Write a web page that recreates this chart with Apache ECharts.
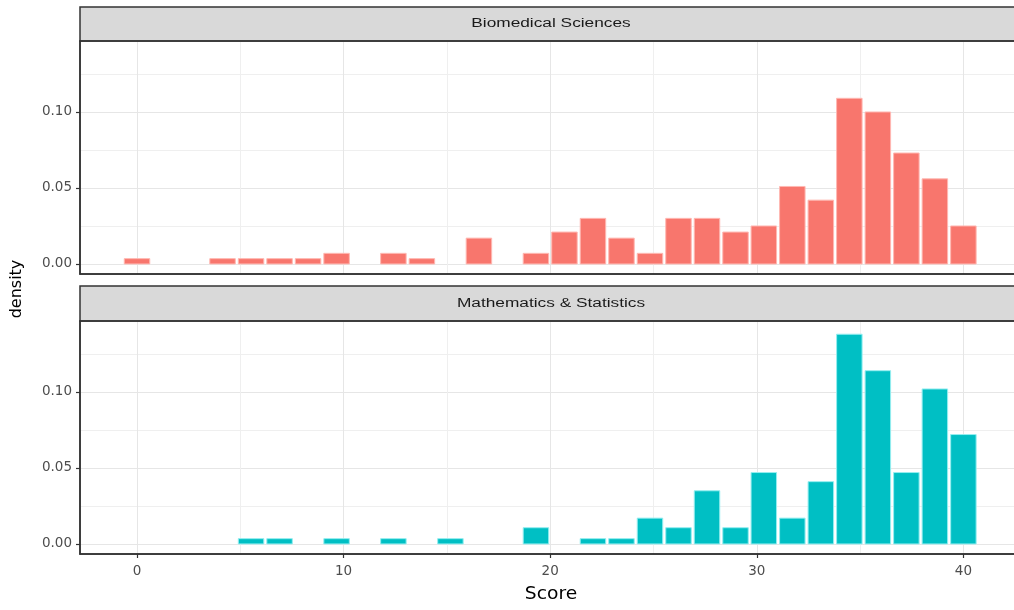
<!DOCTYPE html>
<html>
<head>
<meta charset="utf-8">
<script src="https://cdn.jsdelivr.net/npm/echarts@6/dist/echarts.min.js"></script>
<style>html,body{margin:0;padding:0;background:#fff}#c{width:1014px;height:610px}</style>
</head>
<body>
<div id="c"></div>
<script>
const panelNames = ['Biomedical Sciences', 'Mathematics & Statistics'];
const binCenters = [0, 1.38, 2.76, 4.14, 5.52, 6.90, 8.28, 9.66, 11.03, 12.41, 13.79, 15.17, 16.55, 17.93, 19.31, 20.69, 22.07, 23.45, 24.83, 26.21, 27.59, 28.97, 30.34, 31.72, 33.10, 34.48, 35.86, 37.24, 38.62, 40.00];
const binWidth = 1.379;
const bioDensity = [0.0035, 0, 0, 0.0035, 0.0035, 0.0035, 0.0035, 0.007, 0, 0.007, 0.0035, 0, 0.017, 0, 0.007, 0.021, 0.030, 0.017, 0.007, 0.030, 0.030, 0.021, 0.025, 0.051, 0.042, 0.109, 0.100, 0.073, 0.056, 0.025];
const mathDensity = [0, 0, 0, 0, 0.0035, 0.0035, 0, 0.0035, 0, 0.0035, 0, 0.0035, 0, 0, 0.0107, 0, 0.0035, 0.0035, 0.017, 0.0107, 0.035, 0.0107, 0.047, 0.017, 0.041, 0.138, 0.114, 0.047, 0.102, 0.072];
const yTickLabels = ['0.00', '0.05', '0.10'];
const xTickLabels = ['0', '10', '20', '30', '40'];

const FONT = 'Liberation Sans, Arial, sans-serif';
const AXFONT = 'DejaVu Sans, sans-serif';
const colors = ['#F8766D', '#00BFC4'];
const strokes = ['#ffb8b2', '#95eef0'];

const chart = echarts.init(document.getElementById('c'));

function toData(arr) {
  const out = [];
  arr.forEach((v, i) => { if (v > 0) out.push([binCenters[i], v]); });
  return out;
}

function makeRender(idx) {
  return function (params, api) {
    const c = api.value(0), v = api.value(1);
    const p0 = api.coord([c - binWidth / 2, v]);
    const p1 = api.coord([c + binWidth / 2, 0]);
    return {
      type: 'rect',
      shape: { x: p0[0] + 1.5, y: p0[1], width: p1[0] - p0[0] - 3, height: p1[1] - p0[1] },
      style: { fill: colors[idx], stroke: strokes[idx], lineWidth: 1 }
    };
  };
}

const grids = [
  { left: 80, right: -2, top: 41, height: 233 },
  { left: 80, right: -2, top: 321, height: 233 }
];

const xAxes = grids.map((g, i) => ({
  type: 'value', gridIndex: i, min: -2.76, max: 42.45, splitNumber: 5,
  axisLine: { show: true, onZero: false, lineStyle: { color: '#333', width: 1.5 } },
  axisTick: { show: i === 1, inside: false, length: 4, lineStyle: { color: '#333', width: 1.2 } },
  axisLabel: {
    show: i === 1, color: '#4d4d4d', fontSize: 13.5, fontFamily: AXFONT, margin: 10,
    showMinLabel: false, showMaxLabel: false,
    formatter: v => (xTickLabels.includes(String(v)) ? String(v) : '')
  },
  splitLine: { show: true, lineStyle: { color: '#e6e6e6', width: 1 } },
  minorTick: { show: false, splitNumber: 2 },
  minorSplitLine: { show: true, lineStyle: { color: '#efefef', width: 1 } }
}));

const yAxes = grids.map((g, i) => ({
  type: 'value', gridIndex: i, min: -0.0066, max: 0.1467, splitNumber: 3,
  axisLine: { show: true, onZero: false, lineStyle: { color: '#333', width: 1.5 } },
  axisTick: { show: true, inside: false, length: 4, lineStyle: { color: '#333', width: 1.2 } },
  axisLabel: {
    color: '#4d4d4d', fontSize: 13.5, fontFamily: AXFONT, margin: 8,
    showMinLabel: false, showMaxLabel: false,
    formatter: v => { const s = v.toFixed(2); return yTickLabels.includes(s) && Math.abs(v * 100 - Math.round(v * 100)) < 1e-6 ? s : ''; }
  },
  splitLine: { show: true, lineStyle: { color: '#e6e6e6', width: 1 } },
  minorTick: { show: false, splitNumber: 2 },
  minorSplitLine: { show: true, lineStyle: { color: '#efefef', width: 1 } }
}));

const series = [bioDensity, mathDensity].map((arr, i) => ({
  type: 'custom', xAxisIndex: i, yAxisIndex: i, renderItem: makeRender(i), data: toData(arr), z: 3
}));

const graphic = [];
const strips = [{ top: 7, h: 34, ty: 24 }, { top: 286, h: 35, ty: 304 }];
strips.forEach((s, i) => {
  graphic.push({
    type: 'rect', x: 80, y: s.top, z: 10,
    shape: { x: 0, y: 0, width: 940, height: s.h },
    style: { fill: '#d9d9d9', stroke: '#333', lineWidth: 1.5 }
  });
  graphic.push({
    type: 'text', x: 551, y: s.ty, z: 11, scaleX: 1.44,
    style: { text: panelNames[i], fill: '#1a1a1a', font: '12px ' + FONT, textAlign: 'center', textVerticalAlign: 'middle' }
  });
});
grids.forEach(g => {
  graphic.push({
    type: 'rect', x: 80, y: g.top, z: 10, silent: true,
    shape: { x: 0, y: 0, width: 940, height: g.height },
    style: { fill: 'none', stroke: '#333', lineWidth: 1.5 }
  });
});
graphic.push({
  type: 'text', x: 17, y: 289, rotation: Math.PI / 2, z: 11,
  style: { text: 'density', fill: '#000', font: '16px ' + AXFONT, textAlign: 'center', textVerticalAlign: 'middle' }
});
graphic.push({
  type: 'text', x: 551, y: 595, z: 11, scaleX: 1.1,
  style: { text: 'Score', fill: '#000', font: '17px ' + AXFONT, textAlign: 'center', textVerticalAlign: 'middle' }
});

chart.setOption({
  animation: false,
  backgroundColor: '#fff',
  grid: grids,
  xAxis: xAxes,
  yAxis: yAxes,
  series: series,
  graphic: graphic
});
</script>
</body>
</html>
